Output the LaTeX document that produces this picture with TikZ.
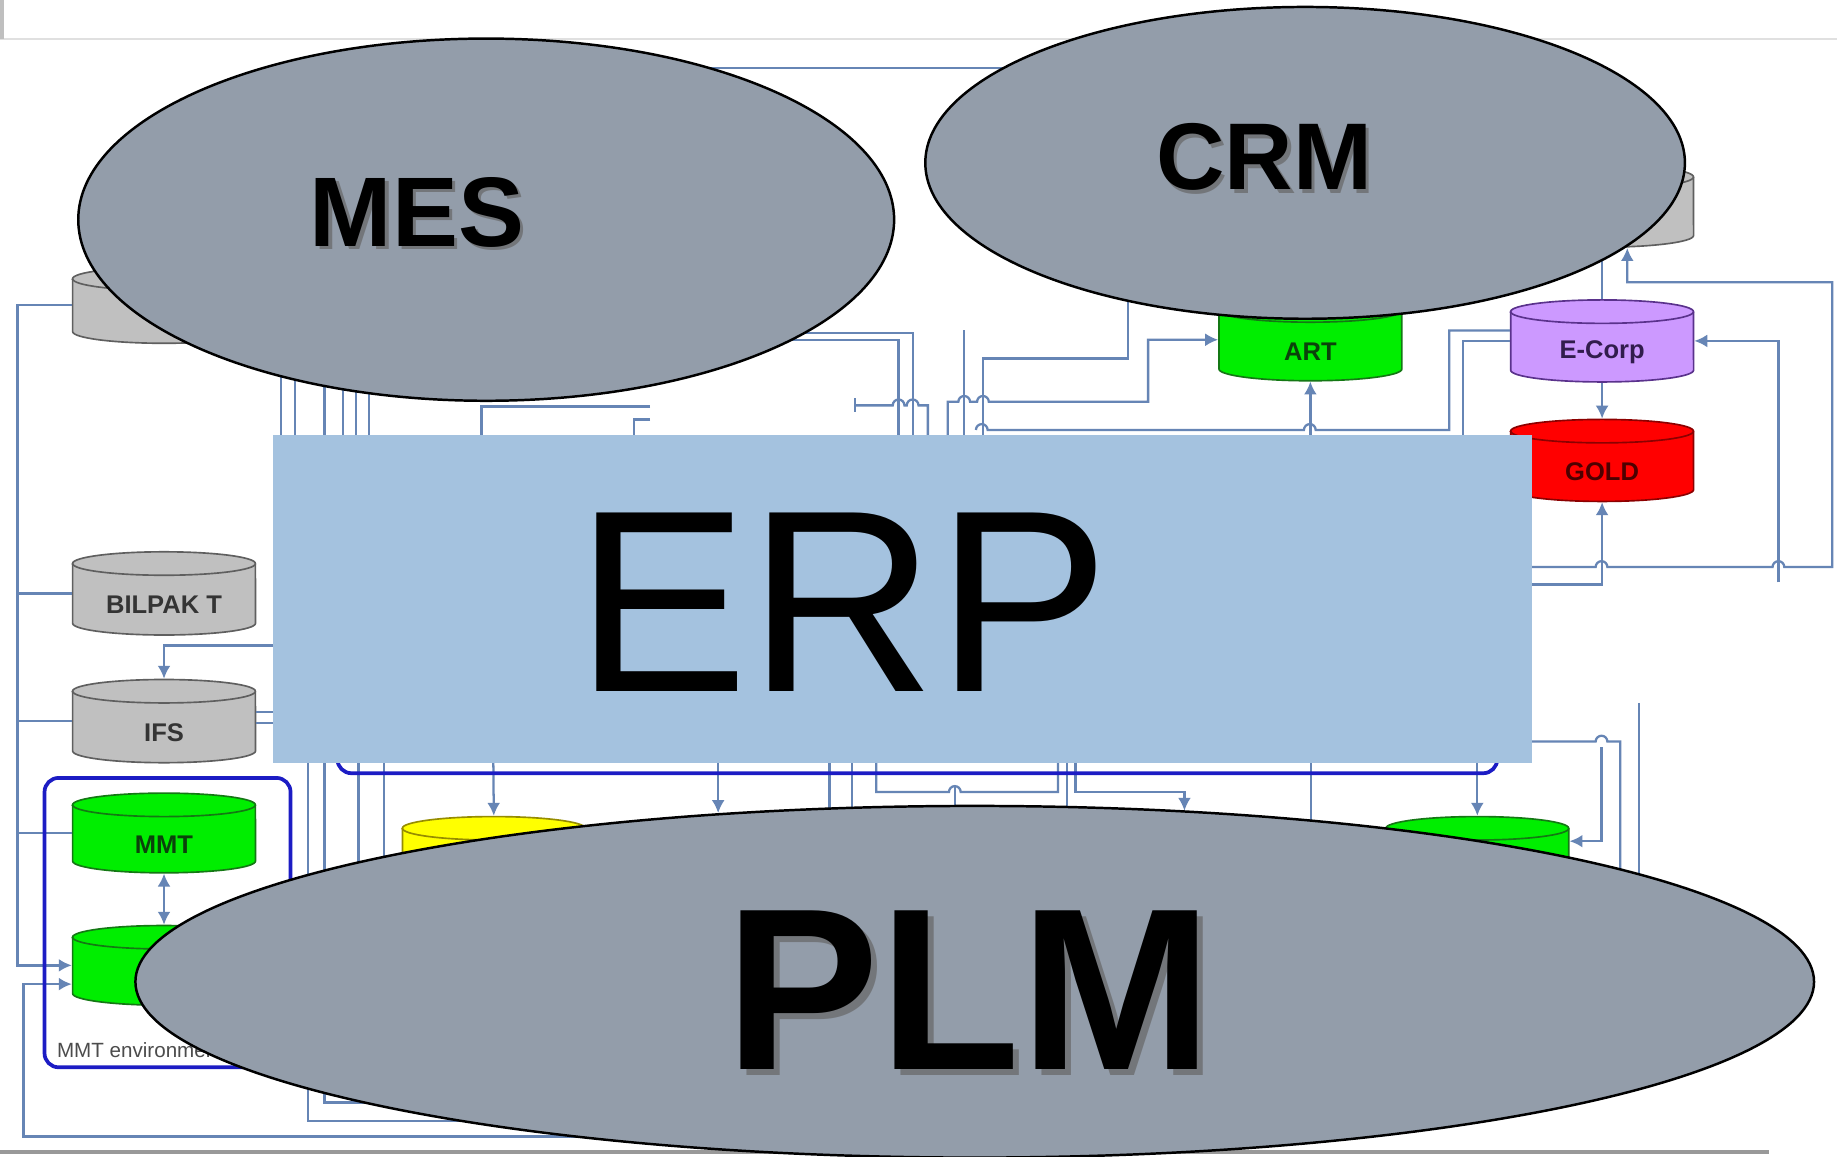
\documentclass[tikz,border=0pt]{standalone}
\usepackage{fontspec}
\setmainfont{Liberation Sans}
\usetikzlibrary{shapes.geometric,arrows.meta}

\definecolor{wireblue}{RGB}{102,133,181}
\definecolor{envblue}{RGB}{28,28,196}
\definecolor{sysgray}{RGB}{147,157,170}
\definecolor{erpblue}{RGB}{164,194,223}
\definecolor{cylgray}{RGB}{192,192,192}
\definecolor{cylgrayedge}{RGB}{95,95,95}
\definecolor{cylgreen}{RGB}{0,238,0}
\definecolor{cylgreenedge}{RGB}{20,120,20}
\definecolor{cylpurple}{RGB}{204,153,255}
\definecolor{cylpurpleedge}{RGB}{90,50,140}
\definecolor{cylred}{RGB}{255,0,0}
\definecolor{cylrededge}{RGB}{140,0,0}
\definecolor{cylyellow}{RGB}{255,255,0}
\definecolor{cylyellowedge}{RGB}{150,140,0}

\tikzset{
  wire/.style={wireblue,line width=0.55pt},
  envline/.style={envblue,line width=0.9pt,rounded corners=0.12cm},
  dbnode/.style={rectangle,inner sep=0pt,minimum width=1.56cm},
  dblabel/.style={font=\bfseries\fontsize{6.2}{7}\selectfont,yshift=-0.1cm,inner sep=0pt},
  sysellipse/.style={ellipse,draw=black,line width=0.6pt,fill=sysgray,inner sep=0pt},
  systext/.style={font=\bfseries\fontsize{#1}{#1}\selectfont,inner sep=0pt},
  shadowtxt/.style={text=black!60,opacity=0.7},
}

% database drum: name, x, y, height, fill, edge, label
\newcommand{\dbcyl}[7]{%
  \begin{scope}[shift={(#2,#3)}]
    \path[fill=#5,draw=#6,line width=0.4pt]
      (-78,{-#4/2+10}) -- (-78,{#4/2-10})
      arc[start angle=180,end angle=360,x radius=0.78cm,y radius=0.1cm]
      -- (78,{-#4/2+10})
      arc[start angle=0,end angle=180,x radius=0.78cm,y radius=0.1cm] -- cycle;
    \draw[#6,line width=0.4pt] (-78,{-#4/2+10})
      arc[start angle=180,end angle=360,x radius=0.78cm,y radius=0.1cm];
    \node[dbnode,minimum height=#4*0.01cm,
      label={[dblabel,text=#6!55!black]center:#7}] (#1) at (0,0) {};
  \end{scope}}

\begin{document}
\begin{tikzpicture}[x=0.01cm,y=-0.01cm,>={Latex[length=1.1mm,width=1.1mm]}]

\useasboundingbox[fill=white] (0,0) rectangle (1568,987);

% page edges
\draw[black!12,line width=0.5pt] (0,33) -- (1568,33);
\draw[black!25,line width=1.2pt] (1.5,0) -- (1.5,33);
\draw[black!40,line width=1pt] (0,983) -- (1510,983);

% databases
\dbcyl{tlgray}{140}{260.5}{65}{cylgray}{cylgrayedge}{}
\dbcyl{bilpak}{140}{506.5}{71}{cylgray}{cylgrayedge}{BILPAK T}
\dbcyl{ifs}{140}{615.5}{71}{cylgray}{cylgrayedge}{IFS}
\dbcyl{mmt}{140}{711}{68}{cylgreen}{cylgreenedge}{MMT}
\dbcyl{mmtdb}{140}{824}{68}{cylgreen}{cylgreenedge}{}
\dbcyl{art}{1118.5}{290}{70}{cylgreen}{cylgreenedge}{ART}
\dbcyl{grayr}{1367.5}{176}{70}{cylgray}{cylgrayedge}{}
\dbcyl{ecorp}{1367.5}{291}{70}{cylpurple}{cylpurpleedge}{E-Corp}
\dbcyl{gold}{1367.5}{393}{70}{cylred}{cylrededge}{GOLD}
\dbcyl{yellowdb}{421.5}{732}{70}{cylyellow}{cylyellowedge}{}
\dbcyl{greenr}{1261}{732}{70}{cylgreen}{cylgreenedge}{}

% left column
\draw[wire,->] (tlgray.west) -| (15,824) -- (mmtdb.west);
\draw[wire] (15,506.5) -- (bilpak.west);
\draw[wire] (15,615.5) -- (ifs.west);
\draw[wire] (15,711) -- (mmt.west);
\draw[wire,->] (600,970) -- (20,970) -- (20,840) -- (mmtdb.west |- 0,840);
\draw[wire,->] (250,551) -| (ifs.north);
\draw[wire] (ifs.east |- 0,608) -- (250,608);
\draw[wire] (ifs.east |- 0,617) -- (250,617);
\draw[wire,<->] (mmt.south) -- (mmtdb.north);

% top middle
\draw[wire] (500,58) -- (1000,58);
\foreach \x in {240,252,277,293,304,315}
  \draw[wire] (\x,300) -- (\x,390);
\draw[wire] (555,347) -- (411,347) -- (411,390);
\draw[wire] (555,358) -- (541,358) -- (541,390);
\draw[wire] (600,284) -- (779,284) -- (779,390);
\draw[wire] (600,290) -- (767,290) -- (767,390);
\draw[wire] (730,340) -- (730,352);
\draw[wire] (730,346) -- (762,346) arc[start angle=180,end angle=0,radius=0.05cm]
  -- (774,346) arc[start angle=180,end angle=0,radius=0.05cm] -- (792,346) -- (792,390);
\draw[wire] (823,282) -- (823,390);
\draw[wire,->] (809,390) -- (809,343) -- (818,343) arc[start angle=180,end angle=0,radius=0.05cm]
  -- (834,343) arc[start angle=180,end angle=0,radius=0.05cm] -- (980,343) -- (980,290) -- (art.west);
\draw[wire] (963,250) -- (963,306) -- (839,306) -- (839,390);
\draw[wire] (833,367) arc[start angle=180,end angle=0,radius=0.05cm] -- (1113,367)
  arc[start angle=180,end angle=0,radius=0.05cm] -- (1237,367) -- (1237,282) -- (ecorp.west |- 0,282);
\draw[wire] (ecorp.west) -- (1249,291) -- (1249,390);
\draw[wire,->] (1118.5,390) -- (art.south);

% right column
\draw[wire] (ecorp.north) -- (grayr.south);
\draw[wire,->] (ecorp.south) -- (gold.north);
\draw[wire,->] (1300,499) -| (gold.south);
\draw[wire,->] (1300,484) -- (1362,484) arc[start angle=180,end angle=0,radius=0.05cm]
  -- (1513,484) arc[start angle=180,end angle=0,radius=0.05cm] -- (1564,484) -- (1564,241)
  -- (1389,241) -- (1389,0 |- grayr.south);
\draw[wire,->] (1518,497) |- (ecorp.east);

% below ERP
\draw[wire] (263,640) -- (263,957) -- (600,957);
\draw[wire] (277,640) -- (277,941) -- (600,941);
\foreach \x in {306,328,708,727,911,1119}
  \draw[wire] (\x,640) -- (\x,760);
\draw[wire,->] (421,640) -- (yellowdb.north);
\draw[wire,->] (613,640) -- (613,694);
\draw[wire,->] (1261,640) -- (greenr.north);
\draw[wire] (748,640) -- (748,676) -- (810,676) arc[start angle=180,end angle=0,radius=0.05cm]
  -- (903,676) -- (903,640);
\draw[wire] (815,671) -- (815,720);
\draw[wire,->] (918,640) -- (918,676) -- (1011,676) -- (1011,692);
\draw[wire] (1300,633) -- (1362,633) arc[start angle=180,end angle=0,radius=0.05cm]
  -- (1383,633) -- (1383,760);
\draw[wire,->] (1367,638) -- (1367,718) -- (greenr.east |- 0,718);
\draw[wire] (1399,600) -- (1399,902) -- (1330,902);

% environments
\draw[envline] (38,664) rectangle (248,911);
\draw[envline] (288,390) rectangle (1278,660);
\node[font=\fontsize{5}{6}\selectfont,text=black!70,anchor=west,inner sep=0pt] (mmtenv)
  at (48,896) {MMT environment};

% ERP
\node[rectangle,fill=erpblue,minimum width=10.74cm,minimum height=2.8cm,inner sep=0pt] (erp)
  at (770,511) {};
\node[font=\fontsize{63}{70}\selectfont,inner sep=0pt] (erplabel) at (719,514) {ERP};

% MES, CRM, PLM
\node[sysellipse,minimum width=6.96cm,minimum height=3.09cm] (mes) at (415,187.5) {};
\node[systext=24,shadowtxt] (messhadow) at (359,184) {MES};
\node[systext=24] (meslabel) at (356,181) {MES};

\node[sysellipse,minimum width=6.48cm,minimum height=2.66cm] (crm) at (1114,139) {};
\node[systext=23,shadowtxt] (crmshadow) at (1082,137) {CRM};
\node[systext=23] (crmlabel) at (1079,134) {CRM};

\node[sysellipse,minimum width=14.32cm,minimum height=3.0cm] (plm) at (832,838) {};
\node[systext=56,shadowtxt] (plmshadow) at (832,850) {PLM};
\node[systext=56] (plmlabel) at (827,845) {PLM};

\end{tikzpicture}
\end{document}
